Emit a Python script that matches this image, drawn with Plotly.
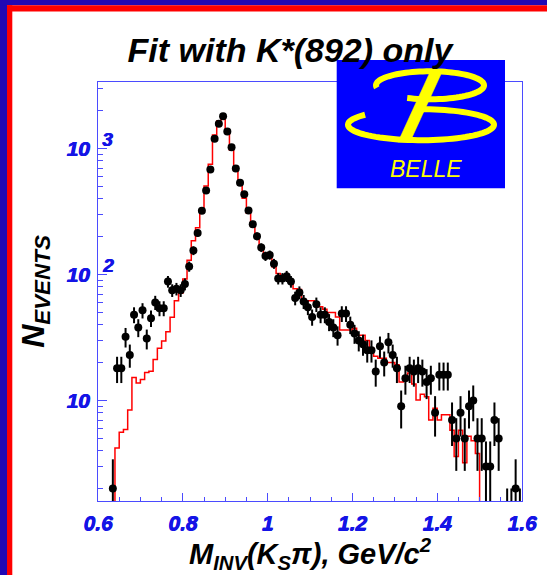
import numpy as np
import plotly.graph_objects as go

# ---------------- data ----------------
bin_lo = 0.60
bin_width = 0.01
n_bins = 100

# observed events per 10 MeV bin, M(KS pi) from 0.60 to 1.60 GeV/c^2
counts = [0, 0, 0, 2, 18, 18, 32, 23, 48, 38,
          52, 31, 45, 60, 54, 54, 88, 75, 77, 75,
          84, 116, 155, 214, 320, 464, 681, 1194, 1570, 1803,
          1365, 1024, 693, 534, 434, 322, 251, 201, 164, 140,
          143, 122, 93, 93, 97, 88, 65, 72, 61, 55,
          46, 58, 48, 48, 42, 38, 33, 49, 49, 40,
          34, 30, 28, 25, 25, 17, 27, 20, 29, 23,
          18, 9, 15, 18, 17, 18, 17, 14, 15, 8,
          16, 16, 16, 7, 5, 8, 5, 9, 10, 5,
          5, 3, 3, 7, 5, 0, 1, 1, 2, 1]

# fit result (K*(892) only), same binning
fit = [0, 0, 0, 0, 4.2, 5.6, 5.9, 8.4, 15.2, 13.8,
       14.7, 16.7, 17.1, 21.2, 26, 29.7, 35.2, 45.7, 62, 71,
       92, 130, 185, 235, 325, 504, 750, 1280, 1650, 1720,
       1400, 973, 675, 513, 403, 306, 240, 200, 161, 138,
       135, 115, 102, 98, 95, 88, 77, 76, 63.5, 62,
       62, 57, 55.5, 53, 50, 50, 46, 36.3, 36.3, 36.3,
       37.4, 33, 33, 30, 26, 22.5, 21.6, 21.6, 20, 20,
       19.2, 14, 15.5, 16.5, 13.5, 10.1, 11.2, 10.7, 7.0, 8.7,
       7.0, 7.7, 7.7, 5.8, 3.6, 5.8, 3.2, 5.2, 4.8, 3.8,
       0, 0, 0, 0, 0, 0, 0, 0, 0, 0]

x_tickvals = [0.6, 0.8, 1.0, 1.2, 1.4, 1.6]
x_ticktext = ["0.6", "0.8", "1", "1.2", "1.4", "1.6"]
y_tickvals = [10, 100, 1000]
y_ticktext = ["10", "10", "10"]
y_exponents = ["", "2", "3"]
y_minor = [2, 3, 4, 5, 6, 7, 8, 9, 20, 30, 40, 50, 60, 70, 80, 90,
           200, 300, 400, 500, 600, 700, 800, 900, 2000, 3000]

title_text = "Fit with K*(892) only"
x_title = "M<sub>INV</sub>(K<sub>S</sub>π), GeV/c<sup>2</sup>"
y_title = "N<sub>EVENTS</sub>"
logo_text = "BELLE"

# ---------------- derived ----------------
counts = np.array(counts, dtype=float)
fit = np.array(fit, dtype=float)
edges = bin_lo + bin_width * np.arange(n_bins + 1)
centers = edges[:-1] + bin_width / 2

mask = counts > 0
err = np.sqrt(counts[mask])
err_minus = np.minimum(err, counts[mask] - 0.01)

fit_floor = np.where(fit > 0, fit, 1e-2)
step_x = edges
step_y = np.append(fit_floor, fit_floor[-1])

FONT = "Liberation Sans, Arial, Helvetica, sans-serif"
AXIS_BLUE = "#4b4bff"
LABEL_BLUE = "#1414e6"
HEAVY = f"0.7px 0px 0px {LABEL_BLUE}, 0px 0.4px 0px {LABEL_BLUE}"
W, H = 547, 575
ML, MR, MT, MB = 98, 25, 82, 74
PW, PH = W - ML - MR, H - MT - MB


def bi(s):
    return f"<b><i>{s}</i></b>"


def P(px, py):
    return (px - ML) / PW, (H - MB - py) / PH


def path_from(points, close=False):
    s = ""
    for i, (px, py) in enumerate(points):
        x, y = P(px, py)
        s += ("M" if i == 0 else "L") + f"{x:.5f},{y:.5f} "
    if close:
        s += "Z"
    return s


fig = go.Figure()
fig.add_trace(go.Scatter(
    x=step_x, y=step_y, mode="lines",
    line=dict(color="#ff0000", width=1.5, shape="hv"),
    hoverinfo="skip", showlegend=False))
fig.add_trace(go.Scatter(
    x=centers[mask], y=counts[mask], mode="markers",
    marker=dict(color="black", size=8),
    error_y=dict(type="data", array=err, arrayminus=err_minus,
                 color="black", thickness=2, width=0),
    showlegend=False))

fig.update_xaxes(
    range=[0.6, 1.6], tickmode="array", tickvals=x_tickvals,
    ticktext=[bi(t) for t in x_ticktext],
    ticks="inside", ticklen=8, tickwidth=1, tickcolor=AXIS_BLUE,
    showline=True, linecolor=AXIS_BLUE, linewidth=1, mirror=True,
    showgrid=False, zeroline=False, automargin=False,
    tickfont=dict(family=FONT, size=21, color=LABEL_BLUE, shadow=HEAVY),
    ticklabelstandoff=3,
    minor=dict(tickmode="linear", tick0=0.6, dtick=0.05, ticks="inside",
               ticklen=4, tickcolor=AXIS_BLUE, showgrid=False),
    title=dict(text=bi(x_title), standoff=5,
               font=dict(family=FONT, size=29, color="black")))

fig.update_yaxes(
    type="log", range=[0.2024, 3.528], tickmode="array",
    tickvals=y_tickvals, ticktext=[bi(t) for t in y_ticktext],
    ticks="inside", ticklen=9, tickwidth=1, tickcolor=AXIS_BLUE,
    showline=True, linecolor=AXIS_BLUE, linewidth=1, mirror=True,
    showgrid=False, zeroline=False, automargin=False,
    tickfont=dict(family=FONT, size=21, color=LABEL_BLUE, shadow=HEAVY),
    ticklabelstandoff=3,
    minor=dict(tickmode="array", tickvals=y_minor, ticks="inside",
               ticklen=5, tickcolor=AXIS_BLUE, showgrid=False),
    title=dict(text=bi(y_title), standoff=12,
               font=dict(family=FONT, size=32, color="black")))

annotations = []
for v, e in zip(y_tickvals, y_exponents):
    if e:
        annotations.append(dict(
            xref="paper", yref="y", x=(99.5 - ML) / PW, y=np.log10(v),
            xanchor="left", yanchor="middle", yshift=9, showarrow=False,
            text=bi(e), font=dict(family=FONT, size=19, color=LABEL_BLUE, shadow=HEAVY)))

# Belle logo label
lx, ly = P(426, 169)
annotations.append(dict(
    xref="paper", yref="paper", x=lx, y=ly, xanchor="center", yanchor="middle",
    showarrow=False, text=f"<i>{logo_text}</i>",
    font=dict(family=FONT, size=23, color="#ffff00")))

shapes = []
BORDER_BLUE = "#2208b4"
for (x0, y0, x1, y1, c) in [(-2, -2, 7, 580, BORDER_BLUE), (-2, -2, 550, 5.2, BORDER_BLUE),
                            (7, 5.2, 12.3, 580, "#ff0000"), (7, 5.2, 550, 11.5, "#ff0000")]:
    a0, b0 = P(x0, y1)
    a1, b1 = P(x1, y0)
    shapes.append(dict(type="rect", xref="paper", yref="paper", x0=a0, y0=b0, x1=a1, y1=b1,
                       fillcolor=c, line=dict(width=0), layer="above"))

# logo background
a0, b0 = P(336.7, 188.3)
a1, b1 = P(505, 60)
shapes.append(dict(type="rect", xref="paper", yref="paper", x0=a0, y0=b0, x1=a1, y1=b1,
                   fillcolor="#0000ff", line=dict(width=0), layer="above"))


def arc(cx, cy, rx, ry, t0, t1, n=80):
    ts = np.radians(np.linspace(t0, t1, n))
    return [(cx + rx * np.cos(t), cy - ry * np.sin(t)) for t in ts]


YEL = "#ffff00"
shapes.append(dict(type="path", xref="paper", yref="paper", layer="above",
                   path=path_from(arc(430, 85.3, 54, 14, 190, -115)),
                   line=dict(color=YEL, width=6)))
shapes.append(dict(type="path", xref="paper", yref="paper", layer="above",
                   path=path_from(arc(421, 124.7, 73, 15.5, 140, 455)),
                   line=dict(color=YEL, width=6)))
shapes.append(dict(type="path", xref="paper", yref="paper", layer="above",
                   path=path_from([(430, 72), (442, 72), (410, 142), (398, 142)], close=True),
                   fillcolor=YEL, line=dict(color=YEL, width=0.5)))

fig.update_layout(
    width=W, height=H, margin=dict(l=ML, r=MR, t=MT, b=MB, autoexpand=False),
    paper_bgcolor="white", plot_bgcolor="white",
    font=dict(family=FONT),
    title=dict(text=bi(title_text), x=290 / W, xanchor="center", xref="container",
               y=1 - 50 / H, yanchor="middle", yref="container",
               font=dict(family=FONT, size=34, color="black")),
    annotations=annotations, shapes=shapes, showlegend=False)

fig.write_html("out.html")
